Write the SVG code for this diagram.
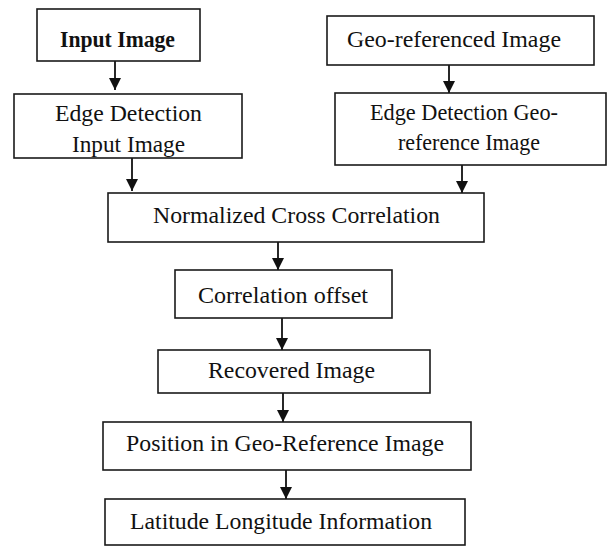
<svg xmlns="http://www.w3.org/2000/svg" width="608" height="547" viewBox="0 0 608 547">
<defs>
<style>
.box{fill:#fff;stroke:#1a1a1a;stroke-width:1.6}
.t{font-family:"Liberation Serif","Times New Roman",serif;font-size:23px;fill:#111}
.b{font-weight:bold}
.c{stroke:#111;stroke-width:1.8;fill:none}
</style>
<marker id="ah" viewBox="0 0 12 12" refX="12" refY="6" markerWidth="12" markerHeight="12" markerUnits="userSpaceOnUse" orient="auto">
<path d="M0,0 L12,6 L0,12 Z" fill="#111"/>
</marker>
</defs>
<rect width="608" height="547" fill="#fff"/>
<g id="connectors">
<line class="c" x1="115" y1="61" x2="115" y2="90" marker-end="url(#ah)"/>
<line class="c" x1="132" y1="158" x2="132" y2="191" marker-end="url(#ah)"/>
<line class="c" x1="449" y1="65" x2="449" y2="93" marker-end="url(#ah)"/>
<line class="c" x1="462" y1="165" x2="462" y2="193" marker-end="url(#ah)"/>
<line class="c" x1="278" y1="242" x2="278" y2="270" marker-end="url(#ah)"/>
<line class="c" x1="282" y1="318" x2="282" y2="350" marker-end="url(#ah)"/>
<line class="c" x1="283" y1="393" x2="283" y2="422" marker-end="url(#ah)"/>
<line class="c" x1="286" y1="470" x2="286" y2="499" marker-end="url(#ah)"/>
</g>
<g id="n1">
<rect class="box" x="37" y="9" width="163" height="52"/>
<text class="t b" x="60" y="47" textLength="115" lengthAdjust="spacingAndGlyphs">Input Image</text>
</g>
<g id="n2">
<rect class="box" x="14" y="94" width="228" height="64"/>
<text class="t" x="55" y="121" textLength="147" lengthAdjust="spacingAndGlyphs">Edge Detection</text>
<text class="t" x="72" y="152" textLength="113" lengthAdjust="spacingAndGlyphs">Input Image</text>
</g>
<g id="n3">
<rect class="box" x="327" y="16" width="267" height="49"/>
<text class="t" x="347" y="47" textLength="214" lengthAdjust="spacingAndGlyphs">Geo-referenced Image</text>
</g>
<g id="n4">
<rect class="box" x="335" y="93" width="271" height="72"/>
<text class="t" x="370" y="120" textLength="188" lengthAdjust="spacingAndGlyphs">Edge Detection Geo-</text>
<text class="t" x="398" y="150" textLength="142" lengthAdjust="spacingAndGlyphs">reference Image</text>
</g>
<g id="n5">
<rect class="box" x="108" y="193" width="376" height="49"/>
<text class="t" x="153" y="223" textLength="287" lengthAdjust="spacingAndGlyphs">Normalized Cross Correlation</text>
</g>
<g id="n6">
<rect class="box" x="175" y="270" width="217" height="48"/>
<text class="t" x="198" y="303" textLength="170" lengthAdjust="spacingAndGlyphs">Correlation offset</text>
</g>
<g id="n7">
<rect class="box" x="158" y="350" width="272" height="43"/>
<text class="t" x="208" y="378" textLength="167" lengthAdjust="spacingAndGlyphs">Recovered Image</text>
</g>
<g id="n8">
<rect class="box" x="103" y="422" width="368" height="48"/>
<text class="t" x="126" y="451" textLength="318" lengthAdjust="spacingAndGlyphs">Position in Geo-Reference Image</text>
</g>
<g id="n9">
<rect class="box" x="105" y="499" width="360" height="46"/>
<text class="t" x="130" y="529" textLength="302" lengthAdjust="spacingAndGlyphs">Latitude Longitude Information</text>
</g>
</svg>
